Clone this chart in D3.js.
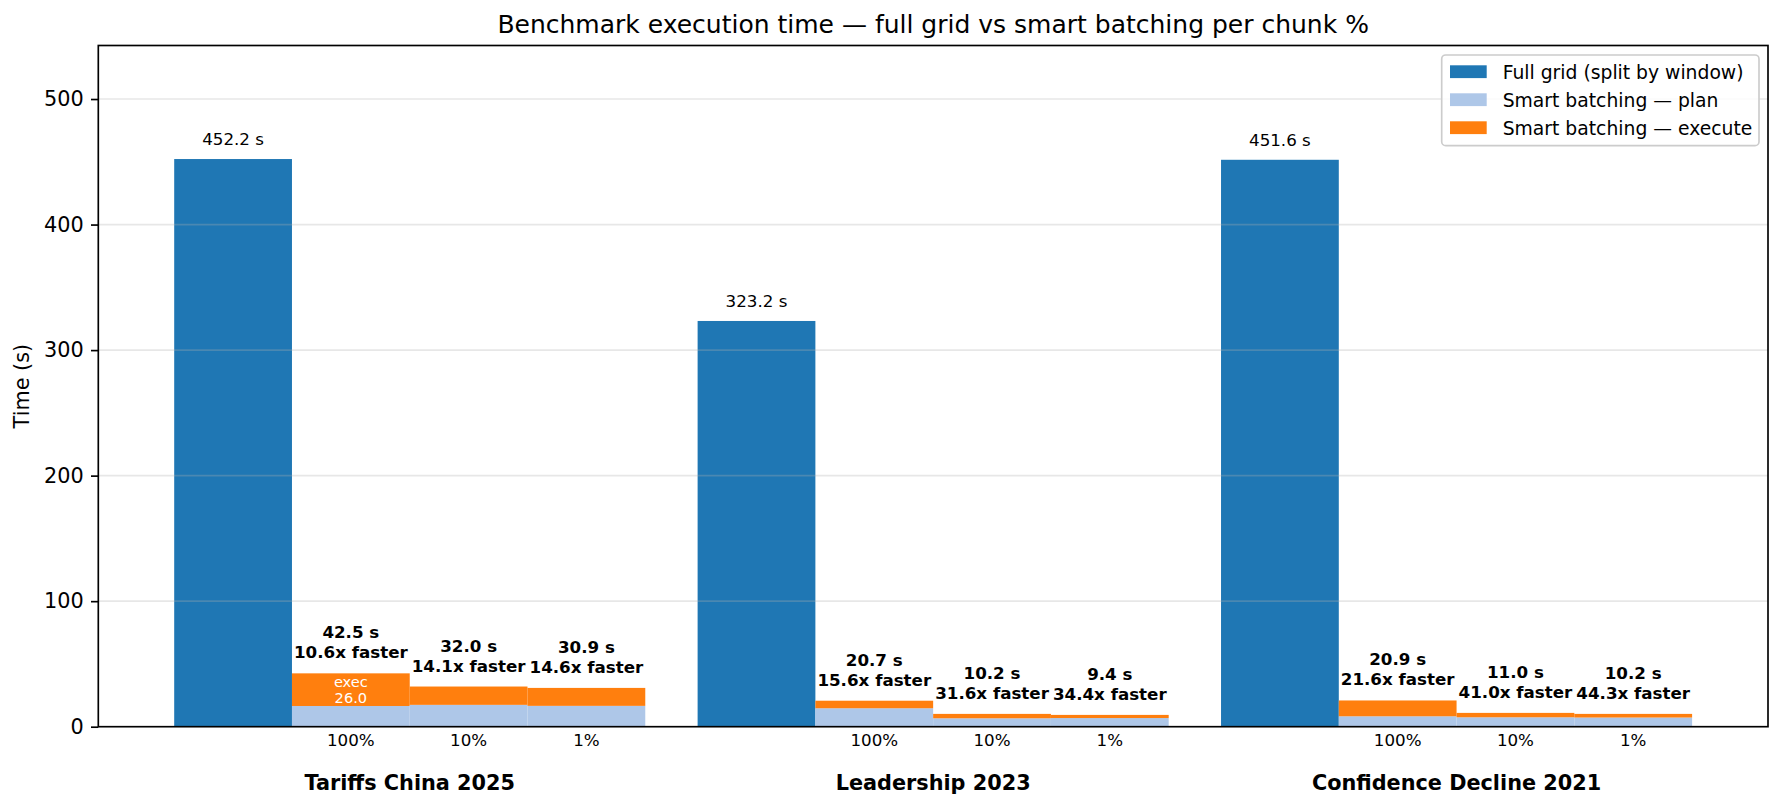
<!DOCTYPE html>
<html>
<head>
<meta charset="utf-8">
<script src="https://cdn.jsdelivr.net/npm/d3@7"></script>
<style>
  html, body { margin: 0; padding: 0; background: #fff; }
  svg { display: block; font-family: "DejaVu Sans", sans-serif; }
</style>
</head>
<body>
<svg id="chart" width="1783" height="808"></svg>
<script>
// ---- Data ----
const groups = ["Tariffs China 2025", "Leadership 2023", "Confidence Decline 2021"];
const chunks = ["100%", "10%", "1%"];
const fullGrid = [452.2, 323.2, 451.6];
const smartTotal = [[42.5, 32.0, 30.9], [20.7, 10.2, 9.4], [20.9, 11.0, 10.2]];
const smartPlan = [[16.5, 17.4, 16.6], [14.7, 6.7, 6.9], [8.3, 7.5, 7.3]];
const speedup = [["10.6", "14.1", "14.6"], ["15.6", "31.6", "34.4"], ["21.6", "41.0", "44.3"]];
const yTicks = [0, 100, 200, 300, 400, 500];
const legendLabels = ["Full grid (split by window)", "Smart batching \u2014 plan", "Smart batching \u2014 execute"];
const colors = ["#1f77b4", "#aec7e8", "#ff7f0e"];

// ---- Layout ----
const svg = d3.select("#chart");
const L = 98.3, R = 1768, T = 45.5, B = 726.7;
const barW = 0.225;
const x = d3.scaleLinear().domain([-0.595, 2.595]).range([L, R]);
const y = d3.scaleLinear().domain([0, d3.max(fullGrid) * 1.2]).range([B, T]);
const pxW = x(barW) - x(0);

const bars = svg.append("g");
const grid = svg.append("g");
const labels = svg.append("g");

groups.forEach((g, gi) => {
  // full grid bar
  const fx = x(gi - 1.5 * barW) - pxW / 2;
  bars.append("rect")
    .attr("x", fx).attr("width", pxW)
    .attr("y", y(fullGrid[gi])).attr("height", y(0) - y(fullGrid[gi]))
    .attr("fill", colors[0]);
  labels.append("text")
    .attr("x", x(gi - 1.5 * barW)).attr("y", y(fullGrid[gi]) - 14)
    .attr("text-anchor", "middle").attr("font-size", 16.7).attr("fill", "#000")
    .text(fullGrid[gi].toFixed(1) + " s");

  chunks.forEach((c, ci) => {
    const cx = gi + (ci - 0.5) * barW;
    const plan = smartPlan[gi][ci];
    const total = smartTotal[gi][ci];
    const exec = total - plan;
    bars.append("rect")
      .attr("x", x(cx) - pxW / 2).attr("width", pxW)
      .attr("y", y(plan)).attr("height", y(0) - y(plan))
      .attr("fill", colors[1]);
    bars.append("rect")
      .attr("x", x(cx) - pxW / 2).attr("width", pxW)
      .attr("y", y(total)).attr("height", y(plan) - y(total))
      .attr("fill", colors[2]);
    if (exec >= 20) {
      const mid = (y(plan) + y(total)) / 2;
      const t = labels.append("text")
        .attr("x", x(cx)).attr("text-anchor", "middle")
        .attr("font-size", 14.6).attr("fill", "#fff");
      t.append("tspan").attr("x", x(cx)).attr("y", mid - 8 + 5.2).text("exec");
      t.append("tspan").attr("x", x(cx)).attr("y", mid + 8 + 5.2).text(exec.toFixed(1));
    }
    const tt = labels.append("text")
      .attr("text-anchor", "middle").attr("font-size", 16.7)
      .attr("font-weight", "bold").attr("fill", "#000");
    tt.append("tspan").attr("x", x(cx)).attr("y", y(total) - 35).text(total.toFixed(1) + " s");
    tt.append("tspan").attr("x", x(cx)).attr("y", y(total) - 15).text(speedup[gi][ci] + "x faster");

    // chunk tick label
    svg.append("text")
      .attr("x", x(cx)).attr("y", 746)
      .attr("text-anchor", "middle").attr("font-size", 16.7).attr("fill", "#000")
      .text(c);
  });

  svg.append("text")
    .attr("x", x(gi)).attr("y", 790)
    .attr("text-anchor", "middle").attr("font-size", 20.8)
    .attr("font-weight", "bold").attr("fill", "#000")
    .text(g);
});

// grid (above bars, like matplotlib)
yTicks.filter(v => v > 0).forEach(v => {
  grid.append("line")
    .attr("x1", L).attr("x2", R).attr("y1", y(v)).attr("y2", y(v))
    .attr("stroke", "#b0b0b0").attr("stroke-opacity", 0.3).attr("stroke-width", 1.67);
});

// y axis
const yAxis = d3.axisLeft(y).tickValues(yTicks).tickSize(7.3).tickPadding(7.3).tickFormat(d3.format("d"));
const ya = svg.append("g").attr("transform", `translate(${L},0)`).call(yAxis);
ya.select(".domain").remove();
ya.selectAll(".tick line").attr("stroke", "#000").attr("stroke-width", 1.67);
ya.selectAll(".tick text").attr("font-size", 20.8).attr("fill", "#000")
  .attr("font-family", "DejaVu Sans, sans-serif");

// frame
svg.append("rect").attr("x", L).attr("y", T).attr("width", R - L).attr("height", B - T)
  .attr("fill", "none").attr("stroke", "#000").attr("stroke-width", 1.67);

// y label
svg.append("text")
  .attr("transform", `translate(29,${(T + B) / 2}) rotate(-90)`)
  .attr("text-anchor", "middle").attr("font-size", 20.8).attr("fill", "#000")
  .text("Time (s)");

// title
svg.append("text")
  .attr("x", (L + R) / 2).attr("y", 33.3)
  .attr("text-anchor", "middle").attr("font-size", 25).attr("fill", "#000")
  .text("Benchmark execution time \u2014 full grid vs smart batching per chunk %");

// legend
const lg = svg.append("g");
lg.append("rect").attr("x", 1441.7).attr("y", 55).attr("width", 1759 - 1441.7).attr("height", 145.7 - 55)
  .attr("rx", 4).attr("fill", "#fff").attr("fill-opacity", 0.8)
  .attr("stroke", "#cccccc").attr("stroke-width", 1.67);
legendLabels.forEach((lab, i) => {
  const cy = 71.7 + i * 28;
  lg.append("rect").attr("x", 1450).attr("y", cy - 6.4).attr("width", 36.7).attr("height", 12.8)
    .attr("fill", colors[i]);
  lg.append("text").attr("x", 1502.7).attr("y", cy + 6.8)
    .attr("font-size", 18.75).attr("fill", "#000").text(lab);
});
</script>
</body>
</html>
